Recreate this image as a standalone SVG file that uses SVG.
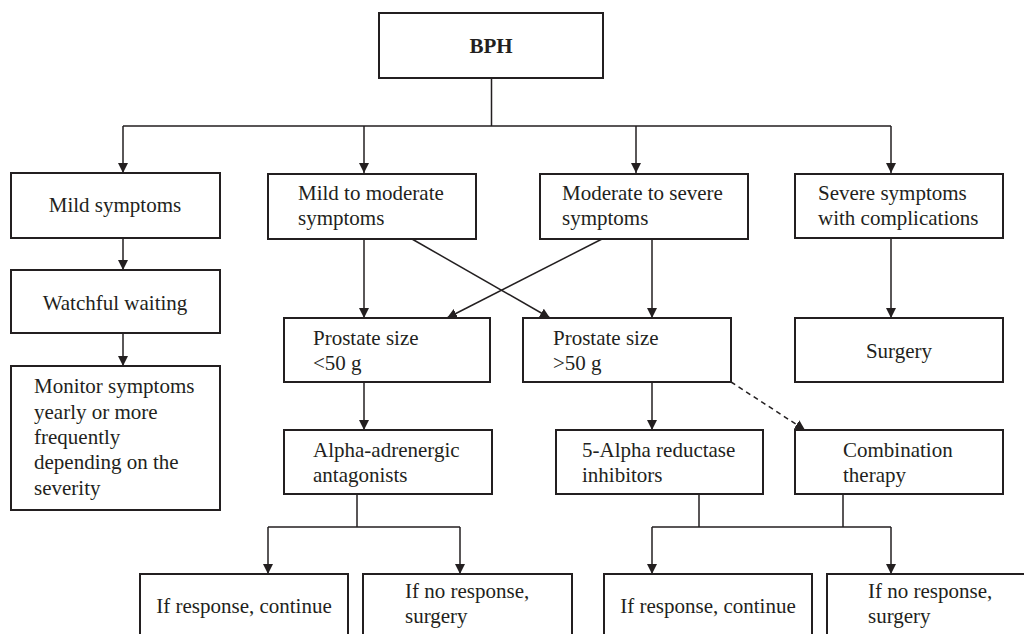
<svg xmlns="http://www.w3.org/2000/svg" width="1024" height="634" viewBox="0 0 1024 634">
<style>
.box{fill:#fff;stroke:#231f20;stroke-width:2}
.t{font-family:"Liberation Serif","Times New Roman",serif;font-size:21px;fill:#231f20}
.c{text-anchor:middle}
.b{font-weight:bold}
.ln{fill:none;stroke:#231f20;stroke-width:1.5}
.dash{stroke-dasharray:5,4}
</style>
<defs>
<marker id="ah" viewBox="0 0 10 10" refX="10" refY="5" markerWidth="10" markerHeight="10" markerUnits="userSpaceOnUse" orient="auto">
<path d="M0,0 L10,5 L0,10 z" fill="#231f20"/>
</marker>
</defs>
<rect width="1024" height="634" fill="#fff"/>
<g id="connectors">
<path class="ln" d="M491.5,78 V126 M123,126 H891"/>
<path class="ln" d="M123,126 V173" marker-end="url(#ah)"/>
<path class="ln" d="M364,126 V173" marker-end="url(#ah)"/>
<path class="ln" d="M636,126 V173" marker-end="url(#ah)"/>
<path class="ln" d="M891,126 V173" marker-end="url(#ah)"/>
<path class="ln" d="M123,238 V270" marker-end="url(#ah)"/>
<path class="ln" d="M123,333 V366" marker-end="url(#ah)"/>
<path class="ln" d="M364,239 V318" marker-end="url(#ah)"/>
<path class="ln" d="M652,239 V318" marker-end="url(#ah)"/>
<path class="ln" d="M891,238 V318" marker-end="url(#ah)"/>
<path class="ln" d="M412,239 L550,318" marker-end="url(#ah)"/>
<path class="ln" d="M602,239 L447,318" marker-end="url(#ah)"/>
<path class="ln" d="M364,382 V430" marker-end="url(#ah)"/>
<path class="ln" d="M652,382 V430" marker-end="url(#ah)"/>
<path class="ln dash" d="M731,382 L805,430" marker-end="url(#ah)"/>
<path class="ln" d="M357,494 V527 M268,527 H460"/>
<path class="ln" d="M268,527 V574" marker-end="url(#ah)"/>
<path class="ln" d="M460,527 V574" marker-end="url(#ah)"/>
<path class="ln" d="M699,494 V527 M843,494 V527 M652,527 H891"/>
<path class="ln" d="M652,527 V574" marker-end="url(#ah)"/>
<path class="ln" d="M891,527 V574" marker-end="url(#ah)"/>
</g>
<g id="bph"><rect class="box" x="379" y="13" width="224" height="65"/><text class="t c b" x="491" y="53">BPH</text></g>
<g id="mild"><rect class="box" x="11" y="173" width="209" height="65"/><text class="t c" x="115" y="212">Mild symptoms</text></g>
<g id="mild-moderate"><rect class="box" x="268" y="174" width="208" height="65"/><text class="t" x="298" y="200">Mild to moderate</text><text class="t" x="298" y="225">symptoms</text></g>
<g id="moderate-severe"><rect class="box" x="540" y="174" width="208" height="65"/><text class="t" x="562" y="200">Moderate to severe</text><text class="t" x="562" y="225">symptoms</text></g>
<g id="severe"><rect class="box" x="795" y="174" width="208" height="64"/><text class="t" x="818" y="200">Severe symptoms</text><text class="t" x="818" y="225">with complications</text></g>
<g id="watchful"><rect class="box" x="11" y="270" width="209" height="63"/><text class="t c" x="115" y="310">Watchful waiting</text></g>
<g id="monitor"><rect class="box" x="11" y="366" width="209" height="144"/>
<text class="t" x="34" y="393">Monitor symptoms</text><text class="t" x="34" y="419">yearly or more</text><text class="t" x="34" y="444">frequently</text><text class="t" x="34" y="469">depending on the</text><text class="t" x="34" y="495">severity</text></g>
<g id="prostate-small"><rect class="box" x="284" y="318" width="206" height="64"/><text class="t" x="313" y="345">Prostate size</text><text class="t" x="313" y="370">&lt;50 g</text></g>
<g id="prostate-large"><rect class="box" x="523" y="318" width="208" height="64"/><text class="t" x="553" y="345">Prostate size</text><text class="t" x="553" y="370">&gt;50 g</text></g>
<g id="surgery"><rect class="box" x="795" y="318" width="208" height="64"/><text class="t c" x="899" y="358">Surgery</text></g>
<g id="alpha"><rect class="box" x="284" y="430" width="208" height="64"/><text class="t" x="313" y="457">Alpha-adrenergic</text><text class="t" x="313" y="482">antagonists</text></g>
<g id="five-alpha"><rect class="box" x="556" y="430" width="207" height="64"/><text class="t" x="582" y="457">5-Alpha reductase</text><text class="t" x="582" y="482">inhibitors</text></g>
<g id="combination"><rect class="box" x="795" y="430" width="208" height="64"/><text class="t" x="843" y="457">Combination</text><text class="t" x="843" y="482">therapy</text></g>
<g id="resp1"><rect class="box" x="140" y="574" width="208" height="70"/><text class="t c" x="244" y="613">If response, continue</text></g>
<g id="noresp1"><rect class="box" x="363" y="574" width="209" height="70"/><text class="t" x="405" y="598">If no response,</text><text class="t" x="405" y="623">surgery</text></g>
<g id="resp2"><rect class="box" x="604" y="574" width="208" height="70"/><text class="t c" x="708" y="613">If response, continue</text></g>
<g id="noresp2"><rect class="box" x="827" y="574" width="208" height="70"/><text class="t" x="868" y="598">If no response,</text><text class="t" x="868" y="623">surgery</text></g>
</svg>
